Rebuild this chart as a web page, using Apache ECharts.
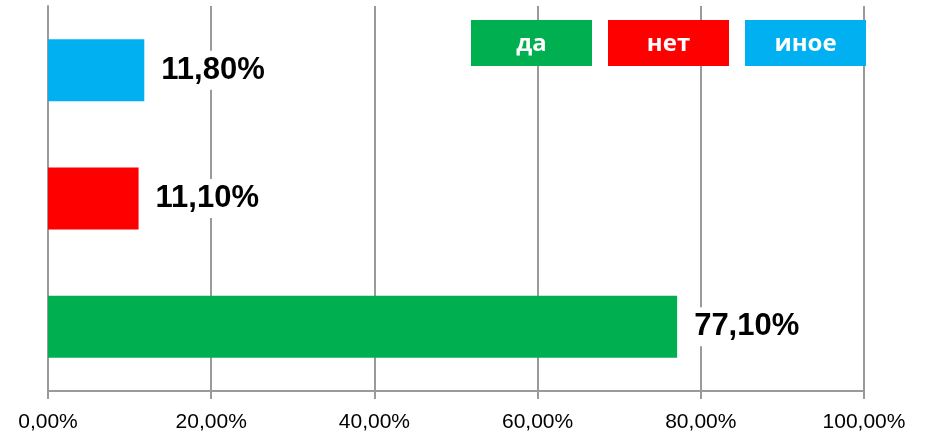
<!DOCTYPE html>
<html>
<head>
<meta charset="utf-8">
<script src="https://cdn.jsdelivr.net/npm/echarts@6/dist/echarts.min.js"></script>
<style>
  html, body { margin: 0; padding: 0; background: #fff; }
  #chart { width: 926px; height: 439px; }
</style>
</head>
<body>
<div id="chart"></div>
<script>
// categories bottom -> top
const categories = ['да', 'нет', 'иное']
const daValues = [77.1, '-', '-']
const netValues = ['-', 11.1, '-']
const inoeValues = ['-', '-', 11.8]
const xTicks = [0, 20, 40, 60, 80, 100]

const colors = { 'да': '#00B050', 'нет': '#FF0000', 'иное': '#00B0F0' }
const richKeys = { 'да': 'da', 'нет': 'net', 'иное': 'inoe' }

const fmt = (v) => Number(v).toFixed(2).replace('.', ',') + '%'

const chart = echarts.init(document.getElementById('chart'))

const makeSeries = (name, data) => ({
  name: name,
  type: 'bar',
  stack: 'all',
  barWidth: 62,
  data: data,
  itemStyle: { color: colors[name] },
  label: {
    show: true,
    position: 'right',
    distance: 13,
    formatter: (p) => fmt(p.value),
    fontFamily: '"Liberation Sans", Arial',
    fontWeight: 'bold',
    fontSize: 31,
    color: '#000',
    backgroundColor: '#fff',
    padding: [6, 4, 2, 4]
  }
})

// one rich style per legend box
const legendRich = {}
categories.forEach((c) => {
  legendRich[richKeys[c]] = {
    color: '#fff',
    fontFamily: '"Open Sans", "Noto Sans", sans-serif',
    fontWeight: 'bold',
    fontSize: 24,
    backgroundColor: colors[c],
    width: 121,
    height: 43,
    lineHeight: 43,
    padding: [3, 0, 0, 0],
    align: 'center'
  }
})

chart.setOption({
  animation: false,
  grid: { left: 48, right: 62, top: 6, bottom: 48 },
  legend: {
    right: 60,
    top: 20,
    padding: 0,
    itemWidth: 0,
    itemHeight: 0,
    itemGap: 11,
    data: categories,
    selectedMode: false,
    formatter: (name) => '{' + richKeys[name] + '|' + name + '}',
    textStyle: { rich: legendRich }
  },
  xAxis: {
    type: 'value',
    min: xTicks[0],
    max: xTicks[xTicks.length - 1],
    interval: 20,
    axisLine: { show: true, lineStyle: { color: '#9a9a9a', width: 2 } },
    axisTick: { show: true, length: 8, lineStyle: { color: '#9a9a9a', width: 2 } },
    splitLine: { show: true, lineStyle: { color: '#9a9a9a', width: 2 } },
    axisLabel: {
      formatter: (v) => fmt(v),
      color: '#000',
      fontFamily: '"Liberation Sans", Arial',
      fontSize: 21,
      margin: 21
    }
  },
  yAxis: {
    type: 'category',
    data: categories,
    axisLine: { show: true, lineStyle: { color: '#9a9a9a', width: 2 } },
    axisTick: { show: false },
    axisLabel: { show: false }
  },
  series: [
    makeSeries('да', daValues),
    makeSeries('нет', netValues),
    makeSeries('иное', inoeValues)
  ]
})
</script>
</body>
</html>
